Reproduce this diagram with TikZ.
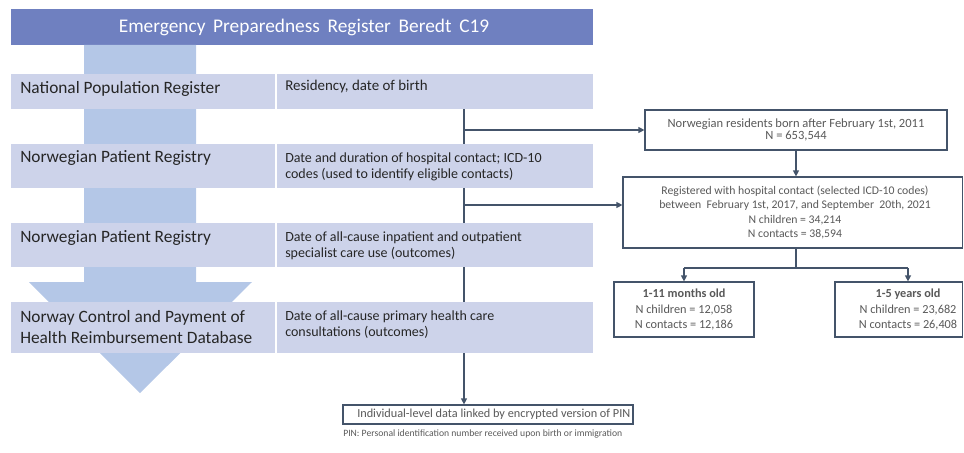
\documentclass[tikz,border=0pt]{standalone}
\usepackage{fontspec}
\setmainfont{Carlito}
\usetikzlibrary{arrows.meta,fit}
\pgfdeclarelayer{background}
\pgfsetlayers{background,main}
\definecolor{titleblue}{HTML}{6F80C0}
\definecolor{rowfill}{HTML}{CDD3EA}
\definecolor{arrowfill}{HTML}{B4C7E7}
\definecolor{linecol}{HTML}{44546A}
\definecolor{boxtext}{HTML}{595959}
\definecolor{rowtext}{HTML}{262626}
\begin{document}
\begin{tikzpicture}[x=0.75pt,y=-0.75pt,
  rowbox/.style={inner sep=0pt, fill=rowfill},
  lefttext/.style={anchor=west, inner sep=0pt, text=rowtext, align=left, font=\fontsize{13}{15.75}\selectfont},
  righttext/.style={anchor=west, inner sep=0pt, text=rowtext, align=left, font=\fontsize{10.5}{12}\selectfont},
  outbox/.style={inner sep=0pt, draw=linecol, line width=0.9pt, fill=white},
  boxlabel/.style={text=boxtext, align=center, inner sep=0pt},
  conn/.style={draw=linecol, line width=0.9pt},
  arr/.style={conn, -{Triangle[length=4.5pt,width=4.5pt]}}]
\useasboundingbox (0,0) rectangle (964,453);

% title
\node[fit={(11,9)(593,45)}, inner sep=0pt, fill=titleblue] (title) {};
\node[text=white, inner sep=0pt, font=\fontsize{14.5}{16}\selectfont] (titlet) at (304,27)
  {Emergency\hspace{5.8pt}Preparedness\hspace{5.8pt}Register\hspace{5.8pt}Beredt\hspace{5.8pt}C19};

% big arrow
\path[fill=arrowfill] (84,45) -- (196,45) -- (196,282) -- (252,282) -- (140,393) -- (29,282) -- (84,282) -- cycle;

% rows
\node[rowbox, fit={(11,74)(275,109)}] (r1l) {};
\node[rowbox, fit={(277,74)(593,109)}] (r1r) {};
\node[rowbox, fit={(11,144)(275,188)}] (r2l) {};
\node[rowbox, fit={(277,144)(593,188)}] (r2r) {};
\node[rowbox, fit={(11,223)(275,267)}] (r3l) {};
\node[rowbox, fit={(277,223)(593,267)}] (r3r) {};
\node[rowbox, fit={(11,302)(275,353)}] (r4l) {};
\node[rowbox, fit={(277,302)(593,353)}] (r4r) {};

\node[lefttext] (t1l) at (20,89) {National Population Register};
\node[lefttext] (t2l) at (20,158) {Norwegian Patient Registry};
\node[lefttext] (t3l) at (20,238) {Norwegian Patient Registry};
\node[lefttext] (t4l) at (20,327.5) {Norway Control and Payment of\\Health Reimbursement Database};

\node[righttext, font=\fontsize{11.2}{12}\selectfont] (t1r) at (285,87) {Residency, date of birth};
\node[righttext] (t2r) at (285,167) {Date and duration of hospital contact; ICD-10\\codes (used to identify eligible contacts)};
\node[righttext] (t3r) at (285,245.5) {Date of all-cause inpatient and outpatient\\specialist care use (outcomes)};
\node[righttext] (t4r) at (285,325) {Date of all-cause primary health care\\consultations (outcomes)};

% right boxes
\node[outbox, fit={(645,110)(947,150)}] (n1) {};
\node[boxlabel, font=\fontsize{9.4}{9.2}\selectfont] (n1t) at (n1.center) {Norwegian residents born after February 1st, 2011\\N = 653,544};
\node[outbox, fit={(623,177)(962.5,248)}] (n2) {};
\node[boxlabel, font=\fontsize{8.8}{10.6}\selectfont] (n2t) at (795,212.5) {Registered with hospital contact (selected ICD-10 codes)\\between\ \ February 1st, 2017, and September\ \ 20th, 2021\\N children = 34,214\\N contacts = 38,594};
\node[outbox, fit={(614,282)(754,337)}] (b1) {};
\node[boxlabel, font=\fontsize{9.2}{11.6}\selectfont] (b1t) at (b1.center) {\textbf{1-11 months old}\\N children = 12,058\\N contacts = 12,186};
\node[outbox, fit={(835,282)(962.5,337)}] (b2) {};
\node[boxlabel, font=\fontsize{9.2}{11.6}\selectfont] (b2t) at (908,309.5) {\textbf{1-5 years old}\\N children = 23,682\\N contacts = 26,408};

% final box
\node[outbox, fit={(343,405)(633,424)}] (fin) {};
\node[boxlabel, font=\fontsize{9.2}{12}\selectfont, anchor=west] (fint) at (357,414.5) {Individual-level data linked by encrypted version of PIN};
\node[boxlabel, font=\fontsize{7.25}{8}\selectfont, anchor=west] (foot) at (343,434) {PIN: Personal identification number received upon birth or immigration};

% connectors
\coordinate (top) at (464,109);
\coordinate (j1) at (464,130);
\coordinate (j2) at (464,205);
\coordinate (s2) at (796,268);
\coordinate (sl) at (684,268);
\coordinate (sr) at (908,268);
\begin{pgfonlayer}{background}
\draw[arr] (top) -- (top |- fin.north);
\end{pgfonlayer}
\draw[arr] (j1) -- (j1 -| n1.west);
\draw[arr] (j2) -- (j2 -| n2.west);
\draw[arr] (n1.south -| s2) -- (n2.north -| s2);
\draw[conn] (n2.south -| s2) -- (s2);
\draw[conn] (sl) -- (sr);
\draw[arr] (sl) -- (sl |- b1.north);
\draw[arr] (sr) -- (sr |- b2.north);
\end{tikzpicture}
\end{document}
